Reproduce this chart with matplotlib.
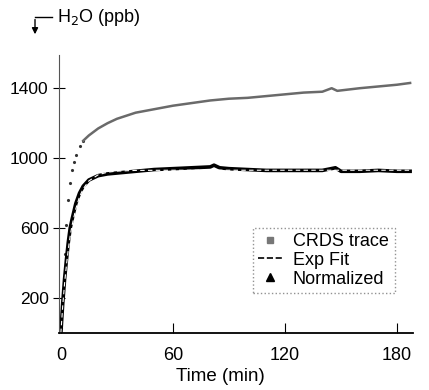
import matplotlib
matplotlib.use("Agg")
import matplotlib.pyplot as plt
from matplotlib.lines import Line2D

plt.rcParams['font.family'] = ['Liberation Sans', 'DejaVu Sans']

# CRDS trace (raw, grey upper curve)
crds_t = [0, 1, 2, 3, 4, 5, 6, 7, 8, 10, 12, 15, 20, 25, 30, 40, 50, 60, 70, 80,
          90, 100, 110, 120, 130, 140, 145, 148, 152, 160, 170, 180, 187]
crds_v = [30, 250, 450, 620, 760, 860, 930, 980, 1020, 1070, 1100, 1130, 1170, 1200,
          1225, 1260, 1280, 1300, 1315, 1330, 1340, 1345, 1355, 1365, 1375, 1380,
          1400, 1385, 1390, 1400, 1410, 1420, 1430]

# normalized trace (black lower curve)
norm_t = [0, 1, 2, 3, 4, 5, 6, 8, 10, 12, 15, 20, 25, 30, 40, 50, 60, 70, 80, 82,
          85, 90, 100, 110, 120, 130, 140, 147, 150, 160, 170, 180, 187]
norm_v = [0, 170, 310, 420, 520, 600, 650, 740, 800, 840, 875, 900, 910, 915, 925,
          935, 940, 945, 950, 960, 945, 940, 935, 930, 930, 930, 930, 945, 925, 925,
          930, 925, 925]

# exponential fit (dashed)
fit_t = [0, 1, 2, 3, 4, 5, 6, 8, 10, 12, 15, 20, 25, 30, 40, 60, 90, 120, 150, 187]
fit_v = [0, 155, 285, 390, 480, 555, 615, 710, 780, 825, 870, 905, 920, 926, 930,
         931, 931, 931, 931, 931]

x_ticks = [0, 60, 120, 180]
y_ticks = [200, 600, 1000, 1400]

fig = plt.figure(figsize=(4.29, 3.9), dpi=100)
ax = fig.add_axes([0.1375, 0.146, 0.825, 0.713])

# early sparse points drawn as dots, rest as a line
ax.plot(crds_t[:11], crds_v[:11], linestyle='none', marker='.', ms=2.5, color='#333333')
ax.plot(crds_t[10:], crds_v[10:], color='#6a6a6a', lw=1.8)
ax.plot(norm_t, norm_v, color='black', lw=2.6)
ax.plot(fit_t, fit_v, color='white', lw=0.8, ls=(0, (4, 3)))

ax.set_xlim(-1, 188.5)
ax.set_ylim(0, 1590)
ax.set_xticks(x_ticks)
ax.set_yticks(y_ticks)
ax.tick_params(axis='x', direction='in', length=7, labelsize=13, pad=10)
ax.tick_params(axis='y', direction='inout', length=8, labelsize=12.5)
ax.spines['top'].set_visible(False)
ax.spines['right'].set_visible(False)
ax.spines['left'].set_color('#555555')
ax.spines['bottom'].set_linewidth(1.3)
ax.set_xlabel('Time (min)', fontsize=13.5)
ax.xaxis.set_label_coords(0.455, -0.125)

handles = [
    Line2D([], [], linestyle='none', marker='s', ms=4, color='#777777'),
    Line2D([], [], color='black', ls='--', lw=1.2),
    Line2D([], [], linestyle='none', marker='^', ms=6, color='black'),
]
leg = ax.legend(handles, ['CRDS trace', 'Exp Fit', 'Normalized'],
                loc='lower left', bbox_to_anchor=(0.548, 0.144, 0.40, 0.23),
                mode='expand', fontsize=13, handlelength=1.3, handletextpad=0.6,
                frameon=True, fancybox=False, borderaxespad=0, labelspacing=0.1,
                borderpad=0.3)
leg.get_frame().set_edgecolor('#777777')
leg.get_frame().set_linestyle(':')

# y-axis label with bent arrow
fig.add_artist(Line2D([0.121, 0.0816], [0.956, 0.956], color='black', lw=1,
                      transform=fig.transFigure))
ax.annotate('', xy=(0.0816, 0.905), xytext=(0.0816, 0.957),
            xycoords='figure fraction', textcoords='figure fraction',
            arrowprops=dict(arrowstyle='-|>', color='black', lw=1, mutation_scale=9))
fig.text(0.133, 0.955, 'H$_2$O (ppb)', fontsize=13, va='center', ha='left')

fig.savefig('out.png', dpi=100)
